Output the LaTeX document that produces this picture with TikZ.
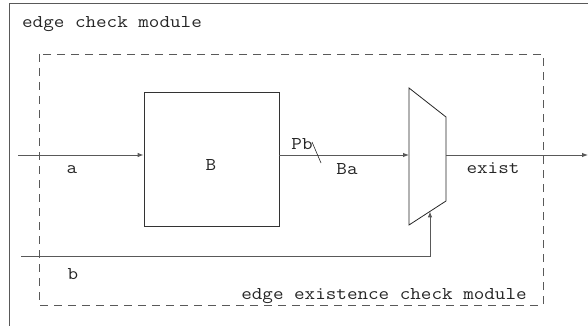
\documentclass[tikz,border=0pt]{standalone}
\usepackage{fontspec}
\usepackage{graphicx}
\usetikzlibrary{arrows.meta}
\newcommand{\wtxt}[1]{\scalebox{1.14}[1]{#1}}
\begin{document}
\begin{tikzpicture}[x=1pt,y=-1pt,
  wire/.style={draw=black!65, line width=0.9pt},
  arr/.style={wire, -{Latex[length=6pt,width=4.5pt]}},
  lbl/.style={inner sep=0pt, font=\ttfamily\fontsize{18}{21}\selectfont, text=black!85},
  blockbox/.style={draw=black!80, line width=0.8pt, minimum width=135pt, minimum height=134pt, inner sep=0pt},
  modbox/.style={draw=black!65, line width=0.8pt, dash pattern=on 8pt off 6pt}]
\useasboundingbox (0,0) rectangle (588,326);
\clip (0,0) rectangle (588,326);
% outer module (cropped)
\draw[black!65, line width=0.9pt] (9,3) rectangle (640,380);
\node[lbl] (outerlbl) at (112,24) {\wtxt{edge check module}};
% inner dashed module
\draw[modbox] (39,54) rectangle (543,305);
\node[lbl] (innerlbl) at (384,296) {\wtxt{edge existence check module}};
% block B
\node[blockbox] (B) at (211.5,159) {};
\node[lbl] (Blbl) at (211,165) {\wtxt{B}};
% mux
\coordinate (m1) at (409,88);
\coordinate (m2) at (446,117);
\coordinate (m3) at (446,201);
\coordinate (m4) at (409,225);
\draw[black!85, line width=0.8pt] (m1) -- (m2) -- (m3) -- (m4) -- cycle;
\coordinate (muxin) at (409,155);
\coordinate (muxout) at (446,155);
\coordinate (muxsel) at (430,211.4);
% wires
\coordinate (ain) at (18,155);
\coordinate (bin) at (21,256);
\coordinate (outend) at (588,155);
\draw[arr] (ain) -- (ain -| B.west);
\draw[arr] (ain -| B.east) -- (muxin);
\draw[arr] (muxout) -- (outend);
\draw[arr] (bin) -| (muxsel);
\draw[black!85, line width=0.6pt] (312,142) -- (321,163);
% labels
\node[lbl] (alb) at (72,170) {\wtxt{a}};
\node[lbl] (pblb) at (302,144) {\wtxt{Pb}};
\node[lbl] (balb) at (347,169) {\wtxt{Ba}};
\node[lbl] (exlb) at (493,168) {\wtxt{exist}};
\node[lbl] (blb) at (73,274) {\wtxt{b}};
\end{tikzpicture}
\end{document}
